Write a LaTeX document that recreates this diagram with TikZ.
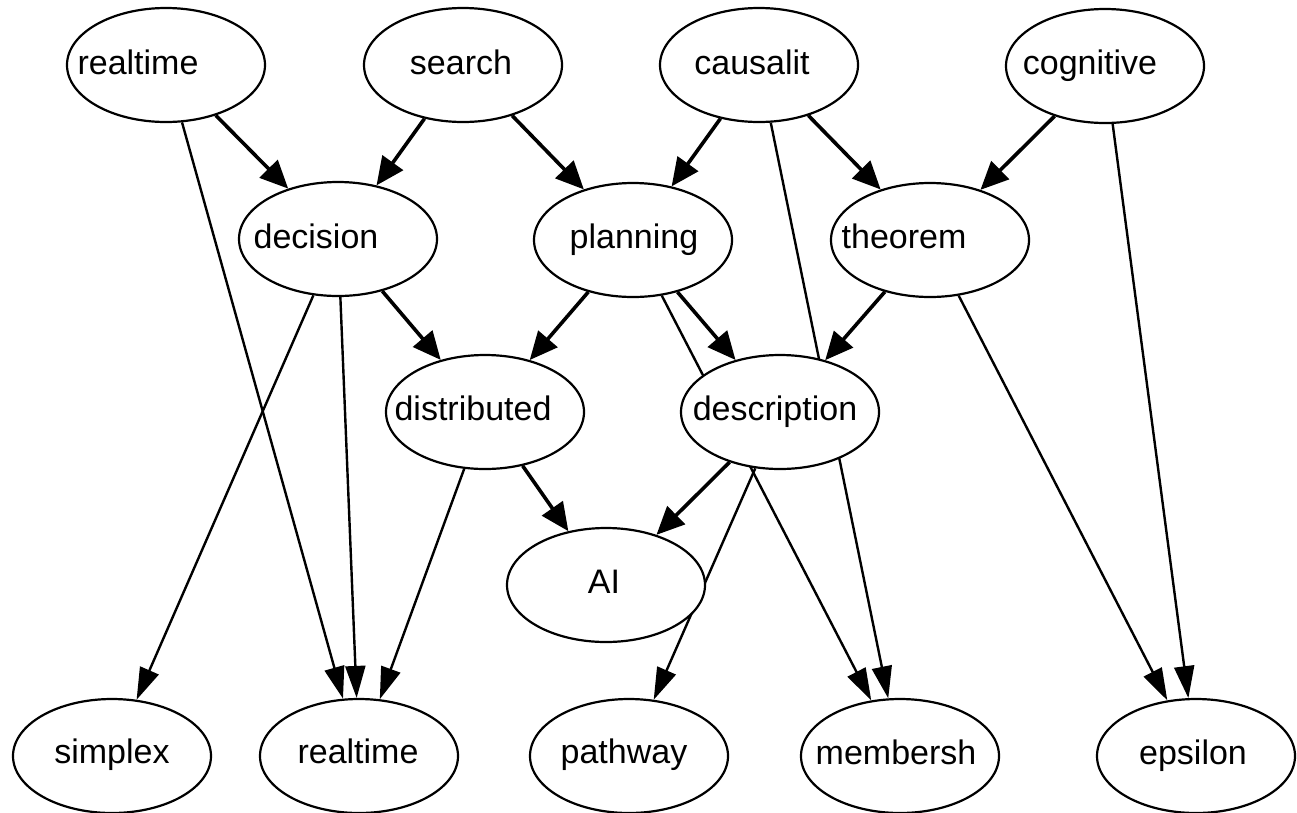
\documentclass[tikz,border=0pt]{standalone}
\usepackage{fontspec}
\setmainfont{Liberation Sans}
\usetikzlibrary{arrows.meta,shapes.geometric}
\pgfdeclarelayer{bg}
\pgfsetlayers{bg,main}
\tikzset{
 nd/.style={ellipse, draw, line width=2.2pt, fill=white, minimum width=198pt, minimum height=114pt, inner sep=0pt},
 lbl/.style={anchor=base, inner sep=0pt, font=\fontsize{34}{40}\selectfont},
 thk/.style={line width=3.6pt, -{Triangle[length=28pt,width=25pt]}},
 thn/.style={line width=2.4pt, -{Triangle[length=32pt,width=20pt]}},
}
\begin{document}
\begin{tikzpicture}[x=1pt,y=-1pt]
\useasboundingbox (0,0) rectangle (1297,812);
% ellipses
\node[nd] (rta) at (166,65) {};
\node[nd] (sea) at (463,65) {};
\node[nd] (cau) at (759,65) {};
\node[nd] (cog) at (1105,66) {};
\node[nd] (dec) at (338,239) {};
\node[nd] (pla) at (633,240) {};
\node[nd] (the) at (930,240) {};
\node[nd] (dis) at (485,412) {};
\node[nd] (des) at (780,412) {};
\node[nd] (ai)  at (606,585) {};
\node[nd] (sim) at (112,756) {};
\node[nd] (rtb) at (359,756) {};
\node[nd] (pat) at (629,756) {};
\node[nd] (mem) at (900,756) {};
\node[nd] (eps) at (1196,756) {};
% labels
\node[lbl] (lrta) at (138,74) {realtime};
\node[lbl] (lsea) at (461,74) {search};
\node[lbl] (lcau) at (752,74) {causalit};
\node[lbl] (lcog) at (1090,74) {cognitive};
\node[lbl] (ldec) at (316,248) {decision};
\node[lbl] (lpla) at (634,248) {planning};
\node[lbl] (lthe) at (904,248) {theorem};
\node[lbl] (ldis) at (473,420) {distributed};
\node[lbl] (ldes) at (775,420) {description};
\node[lbl] (lai)  at (604,593) {AI};
\node[lbl] (lsim) at (112,763) {simplex};
\node[lbl] (lrtb) at (358,763) {realtime};
\node[lbl] (lpat) at (624,763) {pathway};
\node[lbl] (lmem) at (896,764) {membersh};
\node[lbl] (leps) at (1193,764) {epsilon};
% edges
\begin{pgfonlayer}{bg}
\draw[thk] (rta) -- (dec);
\draw[thk] (sea) -- (dec);
\draw[thk] (sea) -- (pla);
\draw[thk] (cau) -- (pla);
\draw[thk] (cau) -- (the);
\draw[thk] (cog) -- (the);
\draw[thk] (dec) -- (dis);
\draw[thk] (pla) -- (dis);
\draw[thk] (pla) -- (des);
\draw[thk] (the) -- (des);
\draw[thk] (dis) -- (ai);
\draw[thk] (des) -- (ai);
\draw[thn] (rta) -- (rtb);
\draw[thn] (dec) -- (sim);
\draw[thn] (dec) -- (rtb);
\draw[thn] (dis) -- (rtb);
\draw[thn] (pla) -- (mem);
\draw[thn] (cau) -- (mem);
\draw[thn] (the) -- (eps);
\draw[thn] (cog) -- (eps);
\draw[thn] (des) -- (pat);
\end{pgfonlayer}
\end{tikzpicture}
\end{document}
